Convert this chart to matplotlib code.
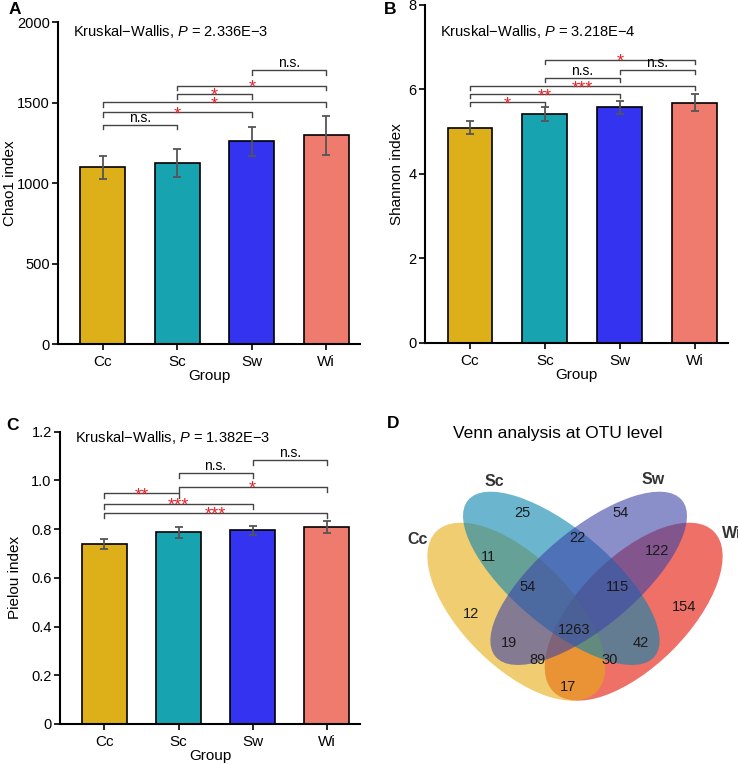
import matplotlib
matplotlib.use('Agg')
import matplotlib.pyplot as plt
from matplotlib.patches import Ellipse

plt.rcParams['font.family'] = ['Liberation Sans', 'DejaVu Sans']
plt.rcParams['mathtext.fontset'] = 'custom'
plt.rcParams['mathtext.rm'] = 'Liberation Sans'
plt.rcParams['mathtext.it'] = 'Liberation Sans:italic'
plt.rcParams['axes.unicode_minus'] = True

# data
groups = ['Cc', 'Sc', 'Sw', 'Wi']
bar_colors = ['#DDB01A', '#17A3B0', '#3333F0', '#EF7B6E']

chao1_mean = [1100, 1125, 1262, 1298]
chao1_err = [72, 87, 90, 122]
shannon_mean = [5.09, 5.41, 5.57, 5.68]
shannon_err = [0.15, 0.16, 0.15, 0.20]
pielou_mean = [0.740, 0.787, 0.795, 0.808]
pielou_err = [0.020, 0.022, 0.020, 0.025]

# pairwise comparisons: (group i, group j, bracket height, label)
chao1_sig = [(0, 1, 1364, 'n.s.'), (0, 2, 1440, '*'), (0, 3, 1503, '*'),
             (1, 2, 1554, '*'), (1, 3, 1606, '*'), (2, 3, 1704, 'n.s.')]
shannon_sig = [(0, 1, 5.69, '*'), (0, 2, 5.88, '**'), (0, 3, 6.07, '***'),
               (1, 2, 6.26, 'n.s.'), (2, 3, 6.45, 'n.s.'), (1, 3, 6.70, '*')]
pielou_sig = [(0, 3, 0.867, '***'), (0, 2, 0.904, '***'), (0, 1, 0.947, '**'),
              (1, 3, 0.974, '*'), (1, 2, 1.031, 'n.s.'), (2, 3, 1.085, 'n.s.')]

kw_p = ['2.336E\u22123', '3.218E\u22124', '1.382E\u22123']

# venn
venn_sets = ['Cc', 'Sc', 'Sw', 'Wi']
venn_fill = ['#E8AC14', '#0885AF', '#3C44A8', '#E31100']
venn_counts = [25, 54, 22, 11, 122, 54, 115, 12, 154, 1263, 19, 42, 89, 30, 17]

fig = plt.figure(figsize=(7.38, 7.65), dpi=100)


def bar_panel(rect, means, errs, sig, ylim, yticks, yticklabels, ylabel, p, tick_h,
              ptxt_y, ylab_x):
    ax = fig.add_axes(rect)
    x = list(range(len(groups)))
    ax.bar(x, means, width=0.6, color=bar_colors, edgecolor='black', linewidth=1.2, zorder=2)
    ax.errorbar(x, means, yerr=errs, fmt='none', ecolor='#555555', elinewidth=1.3,
                capsize=3, capthick=1.3, zorder=3)
    for i, j, y, lab in sig:
        ax.plot([i, i, j, j], [y - tick_h, y, y, y - tick_h], color='#444444', lw=1.0,
                clip_on=False, zorder=1)
        mid = (i + j) / 2
        if lab == 'n.s.':
            ax.annotate(lab, (mid, y), xytext=(0, 0), textcoords='offset points',
                        ha='center', va='bottom', fontsize=10, color='black')
        else:
            ax.annotate(lab, (mid, y), xytext=(0, -5), textcoords='offset points',
                        ha='center', va='baseline', fontsize=13, color='#E3262C')
    ax.set_xlim(-0.6, 3.45)
    ax.set_ylim(*ylim)
    ax.set_yticks(yticks)
    ax.set_yticklabels(yticklabels)
    ax.set_xticks(x)
    ax.set_xticklabels(groups)
    ax.spines['top'].set_visible(False)
    ax.spines['right'].set_visible(False)
    ax.spines['left'].set_linewidth(1.5)
    ax.spines['bottom'].set_linewidth(1.5)
    ax.tick_params(axis='y', labelsize=10.5, width=1.2, length=4, pad=2)
    ax.tick_params(axis='x', labelsize=11, width=1.2, length=4, pad=4)
    ax.set_xlabel('Group', fontsize=11, labelpad=0)
    ax.set_ylabel(ylabel, fontsize=11)
    ax.yaxis.set_label_coords(ylab_x, 0.5)
    ax.text(0.05, ptxt_y, 'Kruskal\u2212Wallis, $P$ = ' + p, transform=ax.transAxes,
            fontsize=10.5, ha='left', va='center')
    return ax


axA = bar_panel([0.0786, 0.550, 0.409, 0.421], chao1_mean, chao1_err, chao1_sig,
                (0, 2000), [0, 500, 1000, 1500, 2000], ['0', '500', '1000', '1500', '2000'],
                'Chao1 index', kw_p[0], 30, 0.97, -0.137)

axB = bar_panel([0.576, 0.552, 0.411, 0.442], shannon_mean, shannon_err, shannon_sig,
                (0, 8), [0, 2, 4, 6, 8], ['0', '2', '4', '6', '8'],
                'Shannon index', kw_p[1], 0.1, 0.92, -0.07)

axC = bar_panel([0.0813, 0.0536, 0.4065, 0.382], pielou_mean, pielou_err, pielou_sig,
                (0, 1.2), [0, 0.2, 0.4, 0.6, 0.8, 1.0, 1.2],
                ['0', '0.2', '0.4', '0.6', '0.8', '1.0', '1.2'],
                'Pielou index', kw_p[2], 0.02, 0.98, -0.125)

# Venn panel, data coords in a 1110 x 1155 frame
axD = fig.add_axes([368 / 738, 0, 370 / 738, 385 / 765])
axD.set_xlim(0, 1110)
axD.set_ylim(1155, 0)
axD.axis('off')

ell_params = {
    'Cc': ((445, 695), 680, 328, 45),
    'Sc': ((580, 595), 730, 292, 40),
    'Sw': ((662, 595), 730, 292, -40),
    'Wi': ((797, 695), 680, 328, -45),
}
for name in ['Wi', 'Cc', 'Sc', 'Sw']:
    c, w, h, a = ell_params[name]
    col = venn_fill[venn_sets.index(name)]
    axD.add_patch(Ellipse(c, w, h, angle=a, facecolor=col, alpha=0.6, edgecolor='none'))

count_pos = [(463, 398), (757, 398), (628, 475), (362, 530), (868, 512),
             (478, 620), (748, 620), (308, 703), (948, 682), (617, 750),
             (423, 788), (817, 788), (510, 840), (725, 840), (600, 920)]
for n, (px, py) in zip(venn_counts, count_pos):
    axD.text(px, py, str(n), ha='center', va='center', fontsize=10.5, color='#1a1a1a')

label_pos = [(150, 480), (380, 303), (855, 300), (1090, 460)]
for name, (px, py) in zip(venn_sets, label_pos):
    axD.text(px, py, name, ha='center', va='center', fontsize=11.5, fontweight='bold',
             color='#333333', clip_on=False)

axD.text(570, 160, 'Venn analysis at OTU level', ha='center', va='center', fontsize=12.5)

# panel letters
for lab, (px, py) in zip('ABCD', [(15, 10), (390, 10), (12, 426), (393, 424)]):
    fig.text(px / 738, 1 - py / 765, lab, fontsize=12.5, fontweight='bold',
             ha='center', va='center')

fig.savefig('out.png', dpi=100)
